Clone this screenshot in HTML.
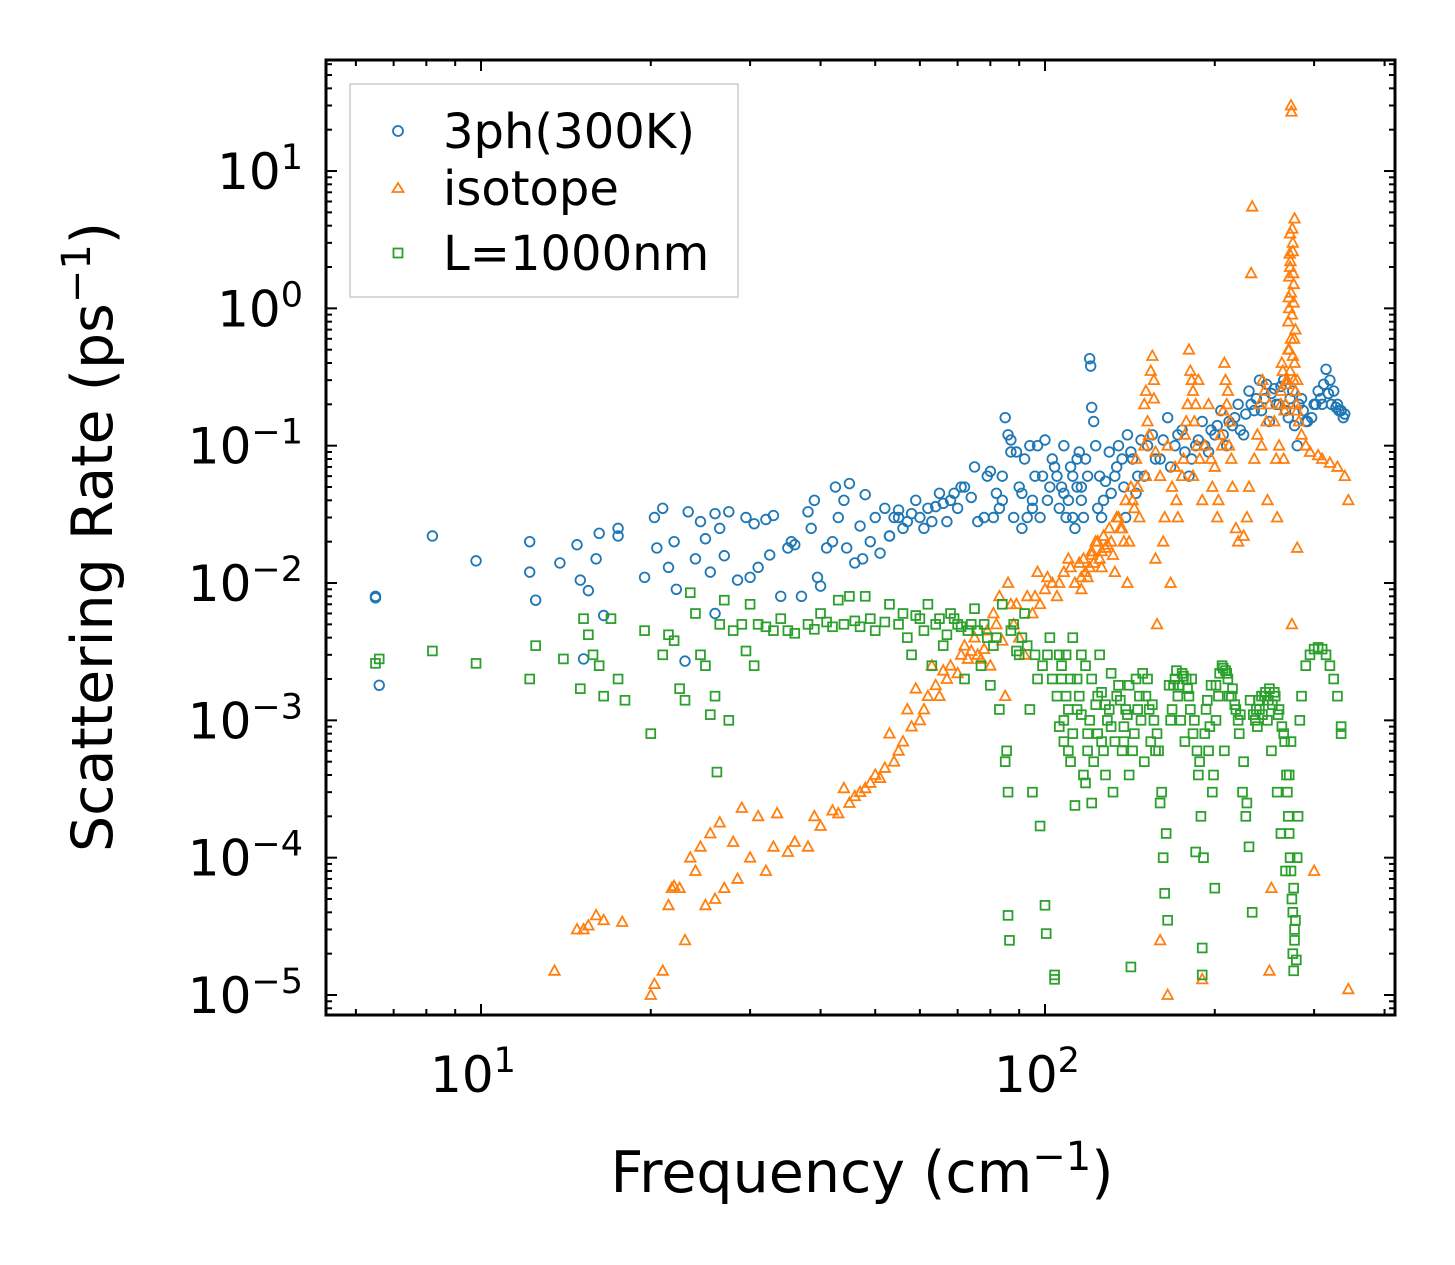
<!DOCTYPE html>
<html><head><meta charset="utf-8"><style>
body{margin:0;background:#fff}
svg{display:block}
text{font-family:"DejaVu Sans","Liberation Sans",sans-serif;fill:#000}
</style></head><body>
<svg id="chart" width="1455" height="1265" viewBox="0 0 1455 1265" xmlns="http://www.w3.org/2000/svg">
<rect x="0" y="0" width="1455" height="1265" fill="#fff"/>
<g id="marks"></g>
<g id="axes"></g>
<text x="862" y="1192" font-size="57" text-anchor="middle">Frequency (cm<tspan dy="-22" font-size="40">−1</tspan><tspan dy="22">)</tspan></text>
<text transform="translate(112,537) rotate(-90)" font-size="57" text-anchor="middle">Scattering Rate (ps<tspan dy="-22" font-size="40">−1</tspan><tspan dy="22">)</tspan></text>
<g>
<rect x="350" y="84" width="388" height="213" fill="#fff" stroke="#ccc" stroke-width="1.5"/>
<circle cx="398" cy="131" r="5" fill="none" stroke="#1f77b4" stroke-width="1.8"/>
<text x="443" y="148" font-size="48">3ph(300K)</text>
<polygon points="398,183 403.5,192 392.5,192" fill="none" stroke="#ff7f0e" stroke-width="1.8"/>
<text x="443" y="205" font-size="48">isotope</text>
<rect x="393.5" y="248.5" width="9" height="9" fill="none" stroke="#2ca02c" stroke-width="1.8"/>
<text x="443" y="270" font-size="48">L=1000nm</text>
</g>
</svg>
<script>
const blueF=[6.5,6.5,6.6,8.2,9.8,12.2,12.2,12.5,13.8,14.8,15,15.2,15.5,16,16.2,16.5,17.5,17.5,19.5,20.3,20.5,21,21.5,22,22.2,23,23.3,24,24.5,25,25.5,26,26,26.5,27,27.5,28.5,29.5,30,30.5,31,32,32.5,33,34,35,35.5,36,37,38,38.5,39,39.5,40,41,42,42.5,43,44,44.5,45,46,47,47.5,48,49,50,51,52,53,54,55,56,57,58,59,60,62,63,65,66,68,70,72,74,75,76,78,80,82,84,85,86,87,88,90,92,94,95,97,98,100,102,104,106,108,110,112,113,115,117,118,120,120.5,121,122,123,125,127,130,133,135,138,140,143,145,148,150,155,160,165,170,175,180,185,190,195,200,205,210,215,220,225,230,235,240,245,250,255,260,265,270,275,280,285,290,300,305,310,315,320,325,330,335,340,105,108,112,114,116,96,93,91,89,83,81,79,71,69,67,64,61,55,53];
const blueR=[.008,.0078,.0018,.022,.0145,.02,.012,.0075,.014,.019,.0105,.0028,.0088,.015,.023,.0058,.022,.025,.011,.03,.018,.035,.013,.02,.009,.0027,.033,.015,.028,.021,.012,.032,.006,.025,.0158,.033,.0105,.03,.011,.027,.013,.029,.016,.031,.008,.018,.02,.019,.008,.033,.025,.04,.011,.0095,.018,.02,.05,.03,.04,.018,.053,.014,.026,.015,.044,.02,.03,.0165,.035,.022,.03,.034,.025,.028,.032,.04,.03,.035,.028,.045,.038,.04,.035,.05,.042,.07,.028,.03,.065,.045,.04,.16,.12,.09,.03,.05,.08,.1,.04,.1,.03,.11,.05,.07,.035,.1,.04,.06,.025,.09,.03,.08,.43,.38,.19,.15,.1,.06,.04,.09,.06,.1,.05,.12,.08,.045,.11,.06,.12,.08,.16,.1,.13,.06,.1,.15,.09,.12,.18,.1,.14,.2,.12,.25,.18,.3,.22,.15,.26,.2,.3,.16,.25,.1,.22,.15,.2,.25,.2,.36,.3,.25,.2,.18,.17,.06,.045,.03,.08,.05,.06,.03,.025,.09,.035,.03,.06,.05,.045,.028,.036,.025,.03,.022];
const blueF2=[101,103,107,109,111,114,116,119,124,126,128,131,134,137,139,142,146,152,157,162,167,172,177,182,187,192,197,202,207,212,217,222,227,232,237,242,247,252,257,262,267,272,277,282,287,292,297,302,308,312,318,322,328,332,338,99,95,91,87,84];
const blueR2=[.04,.08,.05,.03,.07,.05,.04,.06,.035,.03,.055,.045,.07,.08,.03,.09,.06,.1,.08,.11,.07,.12,.09,.08,.11,.1,.13,.14,.12,.15,.16,.13,.17,.2,.22,.18,.28,.24,.2,.27,.18,.22,.14,.2,.18,.15,.16,.2,.22,.28,.24,.2,.19,.18,.16,.06,.035,.045,.11,.06];
const orangeF=[13.5,14.8,15.2,15.5,16,16.5,17.8,20,20.3,21,21.5,21.8,22,22.5,23,23.5,24,24.5,25,25.5,26,26.5,27,28,28.5,29,30,31,32,33,33.5,35,36,38,39,40,42,43,44,45,47,48,50,52,53,55,56,57,58,59,60,62,63,65,66,68,70,72,73,75,76,78,80,82,83,85,86,87,88,90,92,95,97,98,100,103,105,108,110,113,115,118,120,123,125,128,130,133,135,138,140,143,145,147,150,152,155,156,158,160,162,165,168,170,172,175,178,180,182,185,188,190,192,195,198,200,202,205,208,210,212,215,218,220,225,228,230,232,233,235,238,240,242,245,248,250,252,255,258,260,262,265,267,268,270,271,272,273,273.5,274,275,276,277,278,280,282,285,290,295,300,305,310,320,330,340,345,345,165,160,190,250,280,46,49,51,54,61,64,67,71,74,77,79,81,84,89,93,96,101,106,111,116,121,126,131,136,141,146,151,157,163,167,171,176,183,187,197,203,243,247,257,263,269];
const orangeR=[1.5e-5,3e-5,3e-5,3.2e-5,3.8e-5,3.5e-5,3.4e-5,1e-5,1.2e-5,1.5e-5,4.5e-5,6e-5,6.2e-5,6e-5,2.5e-5,1e-4,8e-5,1.2e-4,4.5e-5,1.5e-4,5e-5,1.8e-4,6e-5,1.3e-4,7e-5,2.3e-4,1e-4,2e-4,8e-5,1.2e-4,2.1e-4,1.1e-4,1.3e-4,1.2e-4,2e-4,1.7e-4,2.2e-4,2.1e-4,3.2e-4,2.5e-4,3e-4,3.2e-4,4e-4,4.5e-4,8e-4,6e-4,7e-4,1.2e-3,9e-4,1.7e-3,1e-3,1.5e-3,2.5e-3,1.5e-3,2.3e-3,2.5e-3,2.2e-3,3.5e-3,2.8e-3,4e-3,3e-3,3.3e-3,2.5e-3,5e-3,8e-3,1.5e-3,1e-2,7e-3,5e-3,4e-3,3e-3,6e-3,1.2e-2,7e-3,9e-3,1e-2,8e-3,1.2e-2,1.5e-2,1e-2,1.4e-2,1.2e-2,1.3e-2,2e-2,1.5e-2,1.8e-2,2.5e-2,1.2e-2,3e-2,2e-2,1e-2,4e-2,8e-2,3e-2,1e-1,1.5e-1,4.5e-1,3e-1,5e-3,6e-2,2e-2,1e-1,5e-2,7e-2,3e-2,6e-2,1.5e-1,5e-1,3e-1,2e-1,8e-2,4e-2,1e-1,2e-1,5e-2,7e-2,3e-2,1.2e-1,4e-1,2e-1,1e-1,5e-2,2.5e-2,2e-2,2.2e-2,3e-2,5e-2,1.8,5.5,8e-2,1.2e-1,2e-1,1e-1,2.5e-1,4e-2,2e-1,6e-5,1.5e-1,3e-2,1e-1,2e-1,8e-2,2e-1,3e-1,5e-1,1,2,30,27,5e-3,3,1.5,4.5,.7,.3,.15,.12,.1,.09,8e-5,.085,.08,.075,.07,.06,.04,1.1e-5,1e-5,2.5e-5,1.3e-5,1.5e-5,1.8e-2,2.8e-4,3.5e-4,3.8e-4,5e-4,1.2e-3,1.8e-3,2e-3,3e-3,3.2e-3,2.8e-3,4.5e-3,6e-3,3.8e-3,7e-3,8e-3,8e-3,1.1e-2,1e-2,1.3e-2,1.1e-2,1.6e-2,1.7e-2,2e-2,2.5e-2,2e-2,5e-2,6e-2,1.5e-2,3e-2,1e-2,4e-2,8e-2,6e-2,3e-1,8e-2,4e-2,3e-1,1.5e-1,8e-2,4e-1,3e-1];
const orangeF2=[270,270.5,271,271.5,272,272.5,273,274,274.5,275,275.5,276,276.5,277,278,279,280,271,272,275,273,276,262,264,266,268,150,151,153,154,156,157,177,179,181,183,184,186,206,207,209,211,213,214,116,117,119,121,122,124,126,127,129,132,134,137,139,142,144];
const orangeR2=[.8,1.2,1.7,2.5,3.5,2.2,1.3,.9,3.8,2.6,1.8,1.1,.6,.4,.25,.2,.18,.5,.35,.45,.6,.3,.25,.35,.18,.28,.2,.25,.12,.35,.22,.09,.12,.2,.35,.25,.15,.1,.1,.18,.3,.25,.15,.08,.009,.015,.011,.017,.014,.02,.013,.022,.019,.016,.03,.025,.04,.05,.035];
const greenF=[6.5,6.6,8.2,9.8,12.2,12.5,14,15,15.2,15.5,15.8,16.2,16.5,17,17.5,18,19.5,20,21,21.5,22,22.5,23,23.5,24,24.5,25,25.5,26,26.2,26.5,27,27.5,28,29,29.5,30,30.5,31,32,33,34,35,36,38,39,40,41,42,43,44,45,46,47,48,49,50,52,53,55,56,57,58,60,62,63,65,66,68,70,72,73,75,77,78,80,82,83,84,85,85.5,86,86,86.5,88,90,92,94,95,97,98,100,100.5,102,104,104,106,108,110,112,113,115,117,118,120,122,125,127,130,132,135,138,140,142,145,148,150,152,155,158,160,162,163,165,167,170,172,175,178,180,183,185,187,190,190,193,195,198,200,203,206,210,215,220,225,228,230,233,236,240,245,250,255,260,265,268,270,272,274,275,276,277,280,283,285,290,295,300,305,310,315,320,325,330,335,335,59,61,64,67,69,71,74,76,79,81,87,89,91,93,96,99,101,103,107,109,111,114,116,119,121,124,126,128,131,134,137,139,141,144,147,153,157,169,174,177,182,188,192,197,201,208,212,217,222,238,243,248,252,258,262,267,271,273,278,282];
const greenR=[2.6e-3,2.8e-3,3.2e-3,2.6e-3,2e-3,3.5e-3,2.8e-3,1.7e-3,5.5e-3,4.2e-3,3e-3,2.5e-3,1.5e-3,5.5e-3,2e-3,1.4e-3,4.5e-3,8e-4,3e-3,4.2e-3,3.8e-3,1.7e-3,1.4e-3,8.5e-3,6e-3,3e-3,2.5e-3,1.1e-3,1.5e-3,4.2e-4,5e-3,7.5e-3,1e-3,4.5e-3,5e-3,3.2e-3,7e-3,2.5e-3,5e-3,4.8e-3,4.5e-3,5.5e-3,4.5e-3,4.3e-3,5e-3,4.6e-3,6e-3,5.2e-3,4.8e-3,7.5e-3,5e-3,8e-3,5.3e-3,4.8e-3,8e-3,5.5e-3,4.5e-3,5.2e-3,7e-3,5e-3,6e-3,4e-3,3e-3,5.5e-3,7e-3,2.5e-3,5.5e-3,3.5e-3,6e-3,5e-3,2e-3,4.5e-3,6.5e-3,2.5e-3,5e-3,1.8e-3,4e-3,1.2e-3,7e-3,5e-4,6e-4,3e-4,3.8e-5,2.5e-5,5e-3,3e-3,6e-3,1.2e-3,3e-4,2e-3,1.7e-4,4.5e-5,2.8e-5,4e-3,1.4e-5,1.3e-5,3e-3,1e-3,6e-4,4e-3,2.4e-4,1.5e-3,4e-4,2.5e-3,1e-3,5e-4,3e-3,6e-4,1.2e-3,3e-4,1.8e-3,7e-4,1.1e-3,1.6e-5,2e-3,1e-3,5e-4,2e-3,1.3e-3,8e-4,2.5e-4,1e-4,5.5e-5,3.5e-5,1e-3,2e-3,1.5e-3,2.2e-3,2e-3,1.5e-3,8e-4,1.1e-4,4e-4,2.2e-5,1.4e-5,1.2e-3,6e-4,3e-4,6e-5,1.5e-3,2.5e-3,2.2e-3,1.7e-3,1e-3,5e-4,2.5e-4,1.2e-4,4e-5,1e-3,1.2e-3,1.5e-3,1.7e-3,1.6e-3,1.2e-3,8e-4,4e-4,2e-4,1e-4,5e-5,2e-5,1.5e-5,3e-5,1e-4,1e-3,1.5e-3,2.5e-3,3e-3,3.3e-3,3.4e-3,3.3e-3,3e-3,2.5e-3,2e-3,1.5e-3,9e-4,8e-4,5.8e-3,4.5e-3,5e-3,4.2e-3,5.5e-3,4.8e-3,5e-3,4.5e-3,4e-3,3.5e-3,4.5e-3,3.2e-3,4e-3,3.5e-3,3e-3,2.5e-3,3e-3,2e-3,2.5e-3,1.5e-3,2e-3,1.2e-3,3e-3,8e-4,2e-3,1.5e-3,7e-4,1.3e-3,9e-4,1.5e-3,6e-4,1.2e-3,4e-4,8e-4,1.5e-3,1.2e-3,6e-4,1.8e-3,1e-3,7e-4,2e-3,5e-4,8e-4,1.8e-3,1e-3,6e-4,1.5e-3,1.3e-3,1.1e-3,9e-4,1.1e-3,1e-3,6e-4,3e-4,1.5e-4,8e-5,4e-4,7e-4];
const greenF2=[105,106,107,108,109,110,111,112,114,116,118,119,121,123,124,126,128,129,131,133,136,138,141,143,146,149,151,154,156,159,161,164,166,168,171,173,176,179,181,184,186,189,191,194,196,199,201,204,207,209,211,214,218,221,224,227,231,234,237,239,242,246,249,253,256,259,263,266,269,271,273,275,276,277,278,279,281];
const greenR2=[1.5e-3,9e-4,2e-3,7e-4,3e-3,1.2e-3,5e-4,8e-4,2e-3,1.1e-3,3.5e-4,6e-4,2.5e-4,1.3e-3,8e-4,1.6e-3,4e-4,1e-3,2.2e-3,7e-4,1.4e-3,9e-4,1.8e-3,6e-4,1.2e-3,2.2e-3,1.5e-3,7e-4,1e-3,6e-4,3e-4,1.5e-4,1.8e-3,1.2e-3,2.3e-3,1.8e-3,2.1e-3,1.7e-3,1.2e-3,1e-3,6e-4,2e-4,1e-4,1.4e-3,9e-4,4e-4,1.8e-3,2.2e-3,2.4e-3,2.3e-3,2e-3,1.5e-3,1.2e-3,8e-4,3e-4,2e-4,1.4e-3,1.1e-3,1.2e-3,1.4e-3,1.5e-3,1.6e-3,1.4e-3,1.3e-3,1.5e-3,1.1e-3,9e-4,7e-4,3e-4,1.5e-4,8e-5,4e-5,6e-5,2.5e-5,3.5e-5,1.8e-5,2e-4];
const xTickVals=[10,100];
const xTickLabels=["1","2"];
const yTickVals=[10,1,0.1,0.01,0.001,0.0001,0.00001];
const yTickLabels=["1","0","−1","−2","−3","−4","−5"];

const L=326,R=1395,T=60,B=1015;
const lxMin=Math.log10(10)-(481-L)/564, lxMax=Math.log10(10)+(R-481)/564;
const lyMax=1+(171-T)/137.3, lyMin=-5-(B-995)/137.3;
function X(v){return L+(Math.log10(v)-lxMin)/(lxMax-lxMin)*(R-L);}
function Y(v){return B-(Math.log10(v)-lyMin)/(lyMax-lyMin)*(B-T);}
const NS="http://www.w3.org/2000/svg";
const marks=document.getElementById('marks'), axes=document.getElementById('axes');
function mk(tag,attrs,parent){const e=document.createElementNS(NS,tag);for(const k in attrs)e.setAttribute(k,attrs[k]);parent.appendChild(e);return e;}

function drawBlue(F,Rv){F.forEach((f,i)=>{if(Rv[i]===undefined)return;const x=X(f),y=Y(Rv[i]);
 const c=mk('circle',{cx:x,cy:y,r:4.8,fill:'none',stroke:'#1f77b4','stroke-width':1.8},marks);
 
 });}
function drawOrange(F,Rv){F.forEach((f,i)=>{if(Rv[i]===undefined)return;const x=X(f),y=Y(Rv[i]);
 const p=mk('polygon',{points:`${x},${y-5.5} ${x+5.2},${y+4} ${x-5.2},${y+4}`,fill:'none',stroke:'#ff7f0e','stroke-width':1.8},marks);
 
 });}
function drawGreen(F,Rv){F.forEach((f,i)=>{if(Rv[i]===undefined)return;const x=X(f),y=Y(Rv[i]);
 const s=mk('rect',{x:x-4.4,y:y-4.4,width:8.8,height:8.8,fill:'none',stroke:'#2ca02c','stroke-width':1.8},marks);
 
 });}
drawBlue(blueF,blueR);drawBlue(blueF2,blueR2);
drawOrange(orangeF,orangeR);drawOrange(orangeF2,orangeR2);
drawGreen(greenF,greenR);drawGreen(greenF2,greenR2);

const frame=mk('rect',{x:L,y:T,width:R-L,height:B-T,fill:'none',stroke:'#000','stroke-width':3},axes);


for(let d=0;d<=2;d++){for(let m=1;m<10;m++){const v=m*Math.pow(10,d);const x=X(v);if(x<L||x>R)continue;const len=m===1?11:6;
 mk('line',{x1:x,y1:B,x2:x,y2:B-len,stroke:'#000','stroke-width':2},axes);
 mk('line',{x1:x,y1:T,x2:x,y2:T+len,stroke:'#000','stroke-width':2},axes);}}
xTickVals.forEach((v,i)=>{const t=mk('text',{x:X(v)-8,y:1092,'font-size':50,'text-anchor':'middle'},axes);
 
 
 t.innerHTML='10<tspan dy="-20" font-size="35">'+xTickLabels[i]+'</tspan>';});
for(let d=-6;d<=1;d++){for(let m=1;m<10;m++){const v=m*Math.pow(10,d);const y=Y(v);if(y<T||y>B)continue;const len=m===1?11:6;
 mk('line',{x1:L,y1:y,x2:L+len,y2:y,stroke:'#000','stroke-width':2},axes);
 mk('line',{x1:R,y1:y,x2:R-len,y2:y,stroke:'#000','stroke-width':2},axes);}}
yTickVals.forEach((v,i)=>{const t=mk('text',{x:303,y:Y(v)+18,'font-size':50,'text-anchor':'end'},axes);
 
 
 t.innerHTML='10<tspan dy="-20" font-size="35">'+yTickLabels[i]+'</tspan>';});
</script>
</body></html>
